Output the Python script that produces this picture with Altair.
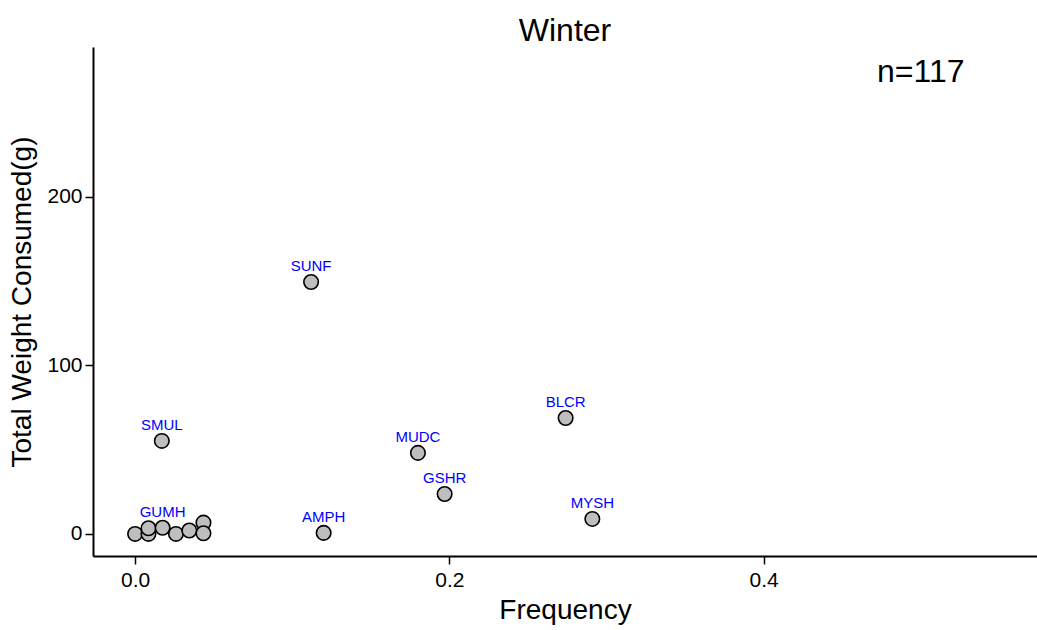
import altair as alt
import pandas as pd

codes = ["SUNF", "SMUL", "BLCR", "MUDC", "GSHR", "MYSH", "AMPH", "", "", "", "GUMH", "", "", "", ""]
freq = [0.112, 0.017, 0.274, 0.180, 0.197, 0.291, 0.120, 0.0, 0.0085, 0.0085, 0.0175, 0.026, 0.0345, 0.0435, 0.0435]
weight = [149.5, 55.2, 68.8, 48.1, 23.7, 8.9, 0.6, 0.0, 0.0, 3.4, 3.7, 0.0, 2.0, 6.7, 0.4]

annot_text = ["n=117"]
annot_x = [0.5]
annot_y = [274]

df = pd.DataFrame({"code": codes, "freq": freq, "weight": weight})
ann = pd.DataFrame({"t": annot_text, "x": annot_x, "y": annot_y})

FONT = "Liberation Sans"
xs = alt.Scale(domain=[-0.0268, 0.574], nice=False, zero=False)
ys = alt.Scale(domain=[-13.1, 289], nice=False, zero=False)

xenc = alt.X("freq:Q", scale=xs, title="Frequency",
             axis=alt.Axis(values=[0.0, 0.2, 0.4], format=".1f", grid=False,
                           domainColor="black", domainWidth=2, tickColor="black",
                           tickWidth=1.5, tickSize=8, labelFontSize=21, labelFont=FONT,
                           labelColor="black", titleFontSize=28, titleFont=FONT,
                           titleFontWeight="normal", titleColor="black", labelPadding=5,
                           titlePadding=6))
yenc = alt.Y("weight:Q", scale=ys, title="Total Weight Consumed(g)",
             axis=alt.Axis(values=[0, 100, 200], grid=False,
                           domainColor="black", domainWidth=2, tickColor="black",
                           tickWidth=1.5, tickSize=8, labelFontSize=21, labelFont=FONT,
                           labelColor="black", titleFontSize=28, titleFont=FONT,
                           titleFontWeight="normal", titleColor="black", labelPadding=3,
                           titlePadding=10))

points = alt.Chart(df).mark_point(filled=True, size=210, fill="#BEBEBE", stroke="black",
                                  strokeWidth=1.6, opacity=1, shape="circle").encode(x=xenc, y=yenc)

labels = alt.Chart(df).mark_text(dy=-16, fontSize=15, font=FONT, color="#0000FF").encode(
    x=alt.X("freq:Q", scale=xs), y=alt.Y("weight:Q", scale=ys), text="code:N")

ntext = alt.Chart(ann).mark_text(fontSize=32, font=FONT, color="black").encode(
    x=alt.X("x:Q", scale=xs), y=alt.Y("y:Q", scale=ys), text="t:N")

chart = alt.layer(points, labels, ntext).properties(
    width=944, height=509,
    background="white",
    title=alt.TitleParams("Winter", fontSize=32, font=FONT, fontWeight="normal",
                          color="black", anchor="middle", offset=1, dy=2),
    autosize=alt.AutoSizeParams(type="none"),
    padding={"left": 93, "top": 47, "right": 0, "bottom": 74},
).configure_view(stroke="transparent", strokeWidth=0)

chart.save("out.html", embed_options={"renderer": "svg", "actions": False})
